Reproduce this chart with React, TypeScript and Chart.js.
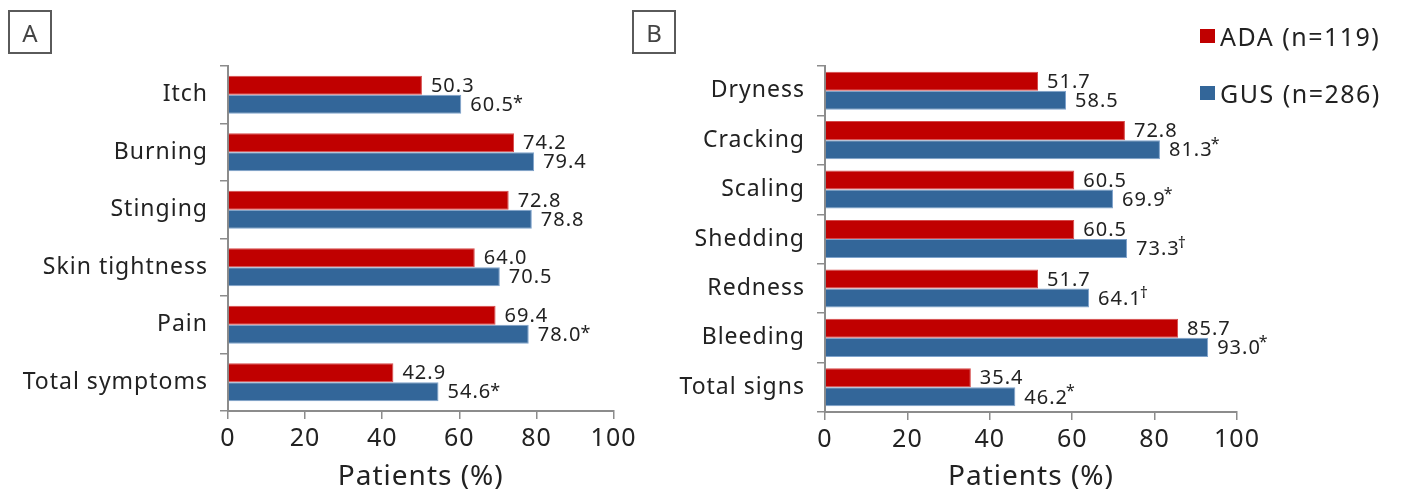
import React, { useEffect, useRef } from "react";
import { Chart, registerables } from "chart.js";

Chart.register(...registerables);

const categoriesA = ["Itch", "Burning", "Stinging", "Skin tightness", "Pain", "Total symptoms"];
const adaA = [50.3, 74.2, 72.8, 64.0, 69.4, 42.9];
const gusA = [60.5, 79.4, 78.8, 70.5, 78.0, 54.6];
const gusMarksA = ["*", "", "", "", "*", "*"];

const categoriesB = ["Dryness", "Cracking", "Scaling", "Shedding", "Redness", "Bleeding", "Total signs"];
const adaB = [51.7, 72.8, 60.5, 60.5, 51.7, 85.7, 35.4];
const gusB = [58.5, 81.3, 69.9, 73.3, 64.1, 93.0, 46.2];
const gusMarksB = ["", "*", "*", "\u2020", "\u2020", "*", "*"];

const xTicks = [0, 20, 40, 60, 80, 100];
const seriesNames = ["ADA (n=119)", "GUS (n=286)"];

const RED = "#C00000";
const BLUE = "#336699";
const FONT = "'Noto Sans', sans-serif";
const TEXT = "#222222";
const AXIS = "#8c8c8c";

type PanelCfg = {
  categories: string[];
  ada: number[];
  gus: number[];
  marks: string[];
  width: number;
  yWidth: number;
  padTop: number;
  padRight: number;
  xHeight: number;
  catPct: number;
  superMark: boolean;
};

const spacingPlugin = {
  id: "spacing",
  beforeDraw(chart: any) {
    chart.ctx.letterSpacing = "1px";
  },
};

function makeLabelPlugin(cfg: PanelCfg) {
  return {
    id: "valueLabels",
    afterDatasetsDraw(chart: any) {
      const ctx = chart.ctx;
      ctx.save();
      ctx.letterSpacing = "1px";
      ctx.fillStyle = TEXT;
      ctx.textBaseline = "middle";
      ctx.textAlign = "left";
      chart.data.datasets.forEach((ds: any, di: number) => {
        const meta = chart.getDatasetMeta(di);
        meta.data.forEach((bar: any, i: number) => {
          const v = ds.data[i] as number;
          const txt = v.toFixed(1);
          ctx.font = `20px ${FONT}`;
          const x = bar.x + 9;
          const y = bar.y + 1;
          ctx.fillText(txt, x, y);
          if (di === 1) {
            const m = cfg.marks[i];
            if (m) {
              const w = ctx.measureText(txt).width;
              if (cfg.superMark) {
                ctx.font = `16px ${FONT}`;
                ctx.fillText(m, x + w - 2, y - 6);
              } else {
                ctx.font = `18px ${FONT}`;
                ctx.fillText(m, x + w - 1, y - 1);
              }
            }
          }
        });
      });
      ctx.restore();
    },
  };
}

function Panel({ cfg }: { cfg: PanelCfg }) {
  const ref = useRef<HTMLCanvasElement | null>(null);
  useEffect(() => {
    if (!ref.current) return;
    const chart = new Chart(ref.current, {
      type: "bar",
      data: {
        labels: cfg.categories,
        datasets: [
          {
            label: seriesNames[0],
            data: cfg.ada,
            backgroundColor: RED,
            borderColor: "#d64a4a",
            borderWidth: 1,
            categoryPercentage: cfg.catPct,
            barPercentage: 1,
          },
          {
            label: seriesNames[1],
            data: cfg.gus,
            backgroundColor: BLUE,
            borderColor: "#7fa3cc",
            borderWidth: 1,
            categoryPercentage: cfg.catPct,
            barPercentage: 1,
          },
        ],
      },
      options: {
        indexAxis: "y",
        responsive: false,
        animation: false,
        layout: { padding: { top: cfg.padTop, right: cfg.padRight, left: 0, bottom: 0 } },
        plugins: { legend: { display: false }, tooltip: { enabled: false } },
        scales: {
          x: {
            min: 0,
            max: 100,
            afterBuildTicks: (s: any) => {
              s.ticks = xTicks.map((v) => ({ value: v }));
            },
            afterFit: (s: any) => {
              s.height = cfg.xHeight;
            },
            grid: {
              drawOnChartArea: false,
              drawTicks: true,
              tickLength: 8,
              color: AXIS,
              lineWidth: 1.5,
            },
            border: { display: true, color: AXIS, width: 2 },
            ticks: {
              color: TEXT,
              font: { family: FONT, size: 25 },
              padding: 5,
            },
            title: {
              display: true,
              text: "Patients (%)",
              color: TEXT,
              font: { family: FONT, size: 28 },
              padding: { top: 0, bottom: -4 },
            },
          },
          y: {
            afterFit: (s: any) => {
              s.width = cfg.yWidth;
            },
            grid: {
              drawOnChartArea: false,
              drawTicks: true,
              tickLength: 8,
              offset: true,
              color: AXIS,
              lineWidth: 1.5,
            },
            border: { display: true, color: AXIS, width: 2 },
            ticks: {
              color: TEXT,
              font: { family: FONT, size: 23 },
              padding: 12,
            },
          },
        },
      },
      plugins: [spacingPlugin, makeLabelPlugin(cfg)],
    } as any);
    return () => chart.destroy();
  }, [cfg]);
  return <canvas ref={ref} width={cfg.width} height={490} style={{ display: "block" }} />;
}

const cfgA: PanelCfg = {
  categories: categoriesA,
  ada: adaA,
  gus: gusA,
  marks: gusMarksA,
  width: 640,
  yWidth: 228,
  padTop: 66,
  padRight: 24,
  xHeight: 79,
  catPct: 0.66,
  superMark: false,
};

const cfgB: PanelCfg = {
  categories: categoriesB,
  ada: adaB,
  gus: gusB,
  marks: gusMarksB,
  width: 630,
  yWidth: 185,
  padTop: 66,
  padRight: 33,
  xHeight: 78,
  catPct: 0.77,
  superMark: true,
};

const boxStyle = (left: number): React.CSSProperties => ({
  position: "absolute",
  left,
  top: 10,
  width: 40,
  height: 40,
  border: "2px solid #5a5a5a",
  display: "flex",
  alignItems: "center",
  justifyContent: "center",
  fontFamily: FONT,
  fontSize: 24,
  color: "#444",
});

export default function App() {
  return (
    <div style={{ position: "fixed", left: 0, top: 0, width: 1408, height: 490, background: "#fff", overflow: "hidden" }}>
      <div style={{ position: "absolute", left: 0, top: 0 }}>
        <Panel cfg={cfgA} />
      </div>
      <div style={{ position: "absolute", left: 640, top: 0 }}>
        <Panel cfg={cfgB} />
      </div>
      <div style={boxStyle(8)}>A</div>
      <div style={boxStyle(632)}>B</div>
      {seriesNames.map((name, i) => (
        <div
          key={name}
          style={{
            position: "absolute",
            left: 1200,
            top: 36 + i * 57 - 16,
            height: 32,
            display: "flex",
            alignItems: "center",
            fontFamily: FONT,
            fontSize: 25,
            letterSpacing: 1.5,
            color: TEXT,
            whiteSpace: "nowrap",
          }}
        >
          <span style={{ display: "inline-block", width: 15, height: 14, background: i === 0 ? RED : BLUE, marginRight: 5 }} />
          {name}
        </div>
      ))}
    </div>
  );
}
